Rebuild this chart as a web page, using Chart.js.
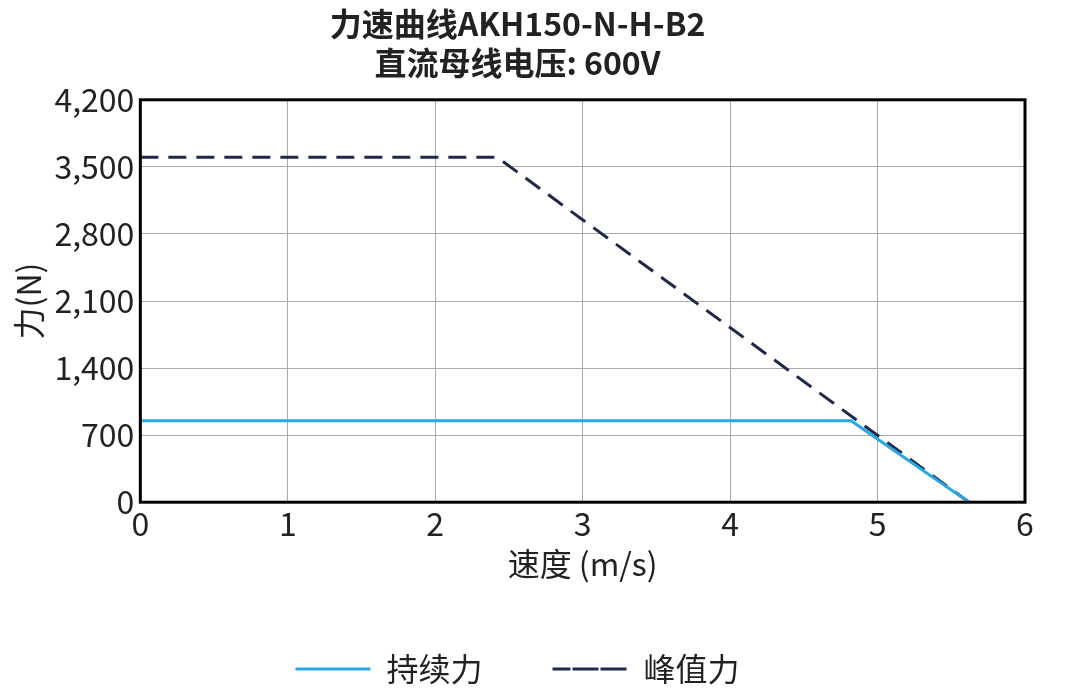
<!DOCTYPE html>
<html>
<head>
<meta charset="utf-8">
<script src="https://cdn.jsdelivr.net/npm/chart.js@4"></script>
<style>
  body { margin: 0; background: #fff; }
</style>
</head>
<body>
<canvas id="forceChart" width="1065" height="700"></canvas>
<script>
const titleLines = ['力速曲线AKH150-N-H-B2', '直流母线电压: 600V'];
const seriesNames = ['持续力', '峰值力'];
const contSpeed = [0, 4.82, 5.62];
const contForce = [850, 850, 0];
const peakSpeed = [0, 2.42, 5.62];
const peakForce = [3600, 3600, 0];

const FONT = '"Noto Sans CJK SC", "Noto Sans", sans-serif';

const boxPlugin = {
    id: 'box',
    afterDraw(chart) {
        const a = chart.chartArea, c = chart.ctx;
        c.save();
        c.strokeStyle = '#000';
        c.lineWidth = 3;
        c.strokeRect(a.left, a.top, a.right - a.left, a.bottom - a.top);
        c.restore();
    }
};

const ctx = document.getElementById('forceChart').getContext('2d');
new Chart(ctx, {
    type: 'scatter',
    data: {
        datasets: [{
            label: seriesNames[0],
            data: contSpeed.map((x, i) => ({ x: x, y: contForce[i] })),
            showLine: true,
            borderColor: '#29a8e0',
            backgroundColor: '#29a8e0',
            borderWidth: 3,
            pointRadius: 0
        }, {
            label: seriesNames[1],
            data: peakSpeed.map((x, i) => ({ x: x, y: peakForce[i] })),
            showLine: true,
            borderColor: '#1f2a4a',
            backgroundColor: '#1f2a4a',
            borderWidth: 3,
            borderDash: [18, 10],
            pointRadius: 0
        }]
    },
    options: {
        responsive: false,
        animation: false,
        devicePixelRatio: 1,
        layout: { padding: { left: 10, right: 40, top: 5, bottom: 5 } },
        plugins: {
            title: {
                display: true,
                text: titleLines,
                color: '#222',
                font: { family: FONT, size: 32 },
                padding: { top: 0, bottom: 18 },
                lineHeight: 1.15
            },
            legend: {
                position: 'bottom',
                labels: {
                    color: '#222',
                    font: { family: FONT, size: 32 },
                    boxWidth: 75,
                    boxHeight: 0,
                    padding: 70
                }
            },
            tooltip: { enabled: false }
        },
        scales: {
            x: {
                type: 'linear',
                min: 0, max: 6,
                ticks: { stepSize: 1, color: '#222', font: { family: FONT, size: 32 }, padding: 2 },
                grid: { color: '#aaa', lineWidth: 1, drawTicks: false },
                title: { display: true, text: '速度 (m/s)', color: '#222', font: { family: FONT, size: 32 }, padding: 0 }
            },
            y: {
                min: 0, max: 4200,
                ticks: { stepSize: 700, color: '#222', font: { family: FONT, size: 32 }, padding: 6 },
                grid: { color: '#aaa', lineWidth: 1, drawTicks: false },
                title: { display: true, text: '力(N)', color: '#222', font: { family: FONT, size: 32 }, padding: 0 }
            }
        }
    },
    plugins: [boxPlugin]
});
</script>
</body>
</html>
